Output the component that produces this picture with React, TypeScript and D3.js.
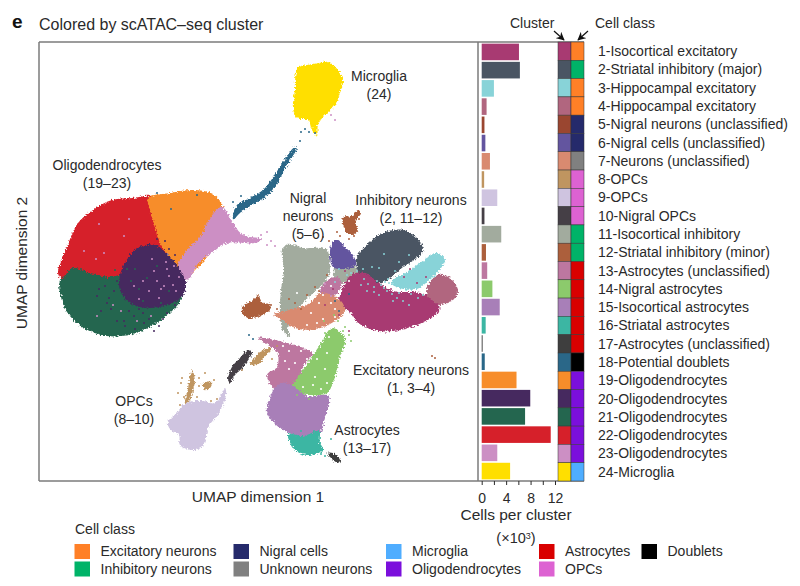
import * as d3 from "d3";
import { useRef, useEffect } from "react";

type Pt = [number, number];

const clusterNames = [
  "1-Isocortical excitatory", "2-Striatal inhibitory (major)", "3-Hippocampal excitatory",
  "4-Hippocampal excitatory", "5-Nigral neurons (unclassified)", "6-Nigral cells (unclassified)",
  "7-Neurons (unclassified)", "8-OPCs", "9-OPCs", "10-Nigral OPCs", "11-Isocortical inhibitory",
  "12-Striatal inhibitory (minor)", "13-Astrocytes (unclassified)", "14-Nigral astrocytes",
  "15-Isocortical astrocytes", "16-Striatal astrocytes", "17-Astrocytes (unclassified)",
  "18-Potential doublets", "19-Oligodendrocytes", "20-Oligodendrocytes", "21-Oligodendrocytes",
  "22-Oligodendrocytes", "23-Oligodendrocytes", "24-Microglia",
];
const cellsPerCluster = [6.1, 6.25, 2.0, 0.8, 0.45, 0.6, 1.35, 0.4, 2.55, 0.45, 3.2, 0.7, 0.9, 1.75, 2.95, 0.65, 0.15, 0.5, 5.7, 7.95, 7.1, 11.3, 2.55, 4.65];
const clusterColors = [
  "#a83a72", "#4a5563", "#88d3d8", "#b1667f", "#9a4630", "#63559f", "#d98a70", "#bf9560",
  "#cfc4e0", "#453f46", "#a2ab9e", "#ac5f3c", "#bd77a0", "#8cca6c", "#a87fb8", "#3cb6a3",
  "#3e3e3e", "#2a6788", "#f78d2a", "#46295f", "#24664f", "#d6202a", "#cc8fc4", "#ffdf00",
];
const classNames = ["Excitatory neurons", "Inhibitory neurons", "Nigral cells", "Unknown neurons", "Microglia", "Oligodendrocytes", "Astrocytes", "OPCs", "Doublets"];
const classColors = ["#ff8027", "#00b368", "#252a6b", "#808080", "#4fadff", "#7b0fdc", "#d90000", "#dd62d2", "#000000"];
const clusterClass = [0, 1, 0, 0, 2, 2, 3, 7, 7, 7, 1, 1, 6, 6, 6, 6, 6, 8, 5, 5, 5, 5, 5, 4];

// UMAP outlines, one list per cell cloud
const cloud21: Pt[] = [[21,201],[22,184],[28,169],[43,154],[68,145],[94,147],[116,157],[134,171],[144,186],[134,201],[101,218],[68,214],[34,214]];
const cloud22: Pt[] = [[19,208],[28,234],[39,258],[54,271],[73,281],[94,283],[114,284],[128,258],[128,228],[101,208],[81,206],[71,204],[51,208],[33,213],[23,202]];
const cloud19: Pt[] = [[109,283],[131,288],[154,291],[174,287],[183,276],[188,258],[168,224],[149,203],[144,199],[134,219],[121,238],[116,254],[111,271]];
const cloud23: Pt[] = [[183,274],[194,258],[204,246],[223,242],[216,238],[188,238],[174,229],[161,219],[149,201],[146,201],[139,214],[148,231],[161,244],[171,263]];
const cloud20: Pt[] = [[81,206],[89,223],[98,233],[116,236],[131,224],[141,211],[147,198],[143,184],[128,176],[108,173],[91,178],[81,191]];
const cloud18: Pt[] = [[194,261],[198,276],[211,283],[224,291],[235,305],[244,319],[256,334],[258,333],[248,316],[240,301],[229,286],[213,276],[201,268]];
const cloud24: Pt[] = [[259,413],[274,417],[289,419],[299,411],[304,401],[301,388],[296,376],[284,364],[279,356],[278,345],[273,351],[269,361],[258,363],[254,373],[256,391],[256,401]];
const cloud11: Pt[] = [[243,231],[249,237],[264,233],[281,233],[288,231],[291,212],[286,199],[274,188],[262,176],[254,166],[249,151],[251,144],[244,150],[241,168],[242,191],[245,211]];
const cloud11b: Pt[] = [[296,216],[316,216],[318,203],[298,199]];
const cloud6: Pt[] = [[293,238],[299,241],[306,234],[314,226],[317,216],[306,212],[294,214],[291,226]];
const cloud12: Pt[] = [[304,264],[313,265],[319,271],[322,268],[316,259],[319,251],[311,246],[306,251]];
const cloud12b: Pt[] = [[203,173],[214,181],[219,186],[223,179],[231,176],[231,171],[218,164],[206,164]];
const cloud2: Pt[] = [[319,226],[331,239],[346,249],[364,251],[378,243],[384,231],[378,223],[364,214],[351,203],[338,197],[322,203],[318,213]];
const cloud3: Pt[] = [[378,216],[398,228],[406,221],[396,206],[388,199],[378,192],[364,192],[352,198],[358,204],[366,208]];
const cloud4: Pt[] = [[388,194],[399,206],[411,203],[419,191],[416,183],[401,176],[388,186]];
const cloud1: Pt[] = [[303,191],[312,206],[325,208],[340,198],[354,190],[381,188],[398,180],[400,170],[378,156],[354,150],[334,151],[318,159],[310,170],[300,178]];
const cloud7: Pt[] = [[234,166],[254,172],[271,178],[281,188],[300,182],[306,170],[291,157],[271,151],[254,154],[240,163]];
const cloud14: Pt[] = [[293,153],[306,143],[301,124],[294,98],[288,88],[271,86],[252,90],[266,114],[281,136]];
const cloud13: Pt[] = [[219,143],[241,140],[258,135],[273,128],[264,114],[256,92],[238,90],[228,106],[238,114],[238,129]];
const cloud13b: Pt[] = [[281,189],[289,201],[298,204],[303,196],[291,183]];
const cloud15: Pt[] = [[231,84],[241,98],[254,95],[268,85],[290,85],[286,64],[280,47],[264,44],[248,49],[234,59],[228,69]];
const cloud16: Pt[] = [[249,47],[264,45],[280,50],[281,38],[285,31],[268,26],[256,31]];
const cloud17: Pt[] = [[288,28],[294,28],[301,21],[299,18],[291,24]];
const cloud10: Pt[] = [[189,103],[193,114],[201,123],[209,131],[213,129],[204,114],[196,106],[191,98]];
const cloud8a: Pt[] = [[153,111],[156,101],[154,91],[151,81],[146,78],[149,93]];
const cloud8b: Pt[] = [[164,98],[173,99],[171,93],[166,91]];
const cloud8c: Pt[] = [[211,116],[221,129],[233,133],[229,128],[218,116]];
const cloud9: Pt[] = [[129,59],[140,70],[146,78],[164,80],[176,78],[186,93],[187,85],[180,68],[170,55],[163,34],[153,31],[141,36],[140,46],[131,52]];

// painted in this order: [cluster number, outline]
const cloudLayers: [number, Pt[]][] = [
  [21, cloud21], [22, cloud22], [19, cloud19], [23, cloud23], [20, cloud20], [18, cloud18], [24, cloud24],
  [11, cloud11], [11, cloud11b], [6, cloud6], [12, cloud12], [12, cloud12b], [2, cloud2], [1, cloud1], [3, cloud3], [4, cloud4],
  [13, cloud13b], [7, cloud7], [13, cloud13], [14, cloud14], [15, cloud15], [16, cloud16], [17, cloud17],
  [10, cloud10], [8, cloud8a], [8, cloud8b], [8, cloud8c], [9, cloud9],
];

// cells that sit apart from or inside another cloud
const strayPink: Pt[] = [[65,228],[85,245],[57,222],[45,230],[90,262],[60,257],[115,210],[125,195],[110,190],[130,205],[120,183],[135,215],[100,182],[118,200],[128,212],[292,366],[296,361],[228,249],[232,240],[236,235],[292,185],[286,197],[122,192],[134,196],[140,204],[113,222],[137,190],[127,219],[95,195],[104,200],[74,176],[82,170],[58,165],[98,160],[112,165],[228,236],[222,246]];
const strayPurple: Pt[] = [[85,160],[95,165],[72,172],[105,158],[78,160],[110,162],[62,170],[120,155],[90,170],[100,172],[115,150],[68,178],[58,185],[128,168],[75,190],[70,183],[66,195],[78,200],[60,192],[86,155],[96,152],[118,242],[126,240],[130,232],[136,226],[104,168],[124,162],[136,176]];
const strayDarkGreen: Pt[] = [[100,192],[108,203],[118,215],[92,200],[130,190],[122,178],[104,180],[88,212],[60,205],[42,212],[76,211],[96,212]];
const strayCyan: Pt[] = [[360,219],[345,227],[340,213],[370,226],[333,214],[325,202],[318,210],[350,198],[338,200],[312,208],[329,197],[345,193],[360,188],[322,196],[335,189],[354,180],[370,176],[384,186],[300,212],[308,206],[296,199],[324,212],[356,210],[348,190],[342,196],[335,194],[353,187],[346,199],[362,196],[372,187],[328,190],[340,186],[358,183],[379,183],[349,202],[364,180]];
const strayMagenta: Pt[] = [[365,204],[378,198],[352,192],[340,190],[387,204],[371,212],[330,205],[306,210],[294,192],[286,176],[300,166],[310,150]];
const strayBrown: Pt[] = [[396,123],[393,125],[280,190],[268,186],[290,240],[298,249],[301,245],[232,176],[238,172],[262,172],[320,262],[250,182],[256,178],[288,206],[276,194],[284,244],[310,242],[315,245]];
const strayGreen: Pt[] = [[310,146],[299,160],[306,154],[295,166],[286,148],[270,82],[258,86],[285,160],[312,140],[304,150]];
const strayTan: Pt[] = [[139,88],[143,103],[160,103],[166,108],[172,80],[178,82],[141,76],[158,84],[203,111],[233,122],[145,84],[160,95],[175,101],[142,98],[238,135]];
const strayBlue: Pt[] = [[261,340],[266,352],[262,349],[270,349],[276,348],[194,279],[202,285],[214,142],[210,146],[300,170],[118,288],[158,286],[296,180],[310,187],[132,272]];
const strayTeal: Pt[] = [[282,27],[286,25],[262,50],[275,50],[292,42]];
const strayWhite: Pt[] = [[296,164],[300,150],[280,178],[272,168],[284,186],[292,195],[288,128],[278,122],[286,112],[276,104],[268,122],[274,96],[256,118],[262,130],[250,112],[246,120],[278,146],[266,145],[272,135],[250,130],[244,135],[254,140],[288,98],[282,92],[264,94],[310,200],[300,186],[296,172],[292,178],[284,162],[278,158],[290,144],[258,188],[268,156],[252,146]];
const strayLayers: [number, Pt[]][] = [
  [23, strayPink], [20, strayPurple], [21, strayDarkGreen], [3, strayCyan], [1, strayMagenta], [12, strayBrown], [14, strayGreen], [8, strayTan], [18, strayBlue], [16, strayTeal],
];

const cloudLabels = [
  { lines: ["Oligodendrocytes", "(19–23)"], u: 68, v: 311 },
  { lines: ["Microglia", "(24)"], u: 340, v: 400 },
  { lines: ["Nigral", "neurons", "(5–6)"], u: 269, v: 278 },
  { lines: ["Inhibitory neurons", "(2, 11–12)"], u: 372, v: 276 },
  { lines: ["Excitatory neurons", "(1, 3–4)"], u: 372, v: 106 },
  { lines: ["Astrocytes", "(13–17)"], u: 328, v: 46 },
  { lines: ["OPCs", "(8–10)"], u: 95, v: 75 },
];

const legendColumns = [[0, 1], [2, 3], [4, 5], [6, 7], [8]];
const countTicks = [0, 2, 4, 6, 8, 10, 12];

const ink = "#2a2a2a";
const frame = "#7c7c7c";
const font = "'Liberation Sans', Arial, sans-serif";

const App = () => {
  const gx = useRef<SVGGElement>(null);

  const top = 42;
  const bottom = 481;
  const left = 39;

  const x = d3.scaleLinear().domain([0, 439]).range([left, 478]);
  const y = d3.scaleLinear().domain([0, 439]).range([bottom, top]);
  const outline = d3.line<Pt>().x(d => x(d[0])).y(d => y(d[1])).curve(d3.curveCatmullRomClosed.alpha(0.5));

  const xCount = d3.scaleLinear().domain([0, 12]).range([481.7, 555]);
  const row = d3.scaleBand<number>().domain(d3.range(24)).range([top, bottom]).padding(0.09);
  const rowFull = d3.scaleBand<number>().domain(d3.range(24)).range([top, bottom]);

  const swatchX = [74.5, 233.5, 386, 539, 641.5];
  const legendY = [551.5, 569];

  useEffect(() => {
    if (gx.current) {
      const g = d3.select(gx.current);
      g.call(
        d3.axisBottom(xCount)
          .tickValues(countTicks)
          .tickSize(4)
          .tickPadding(8)
          .tickFormat(d => (+d % 4 === 0 ? String(d) : ""))
      );
      g.select(".domain").remove();
      g.selectAll("line").attr("stroke", ink);
      g.selectAll("text").attr("font-size", 14).attr("font-family", font).attr("fill", ink);
    }
  }, []);

  return (
    <svg width={800} height={586} style={{ position: "absolute", left: 0, top: 0 }} fontFamily={font} fill={ink}>
      <defs>
        <filter id="grain" x="-10%" y="-10%" width="120%" height="120%" colorInterpolationFilters="sRGB">
          <feTurbulence type="fractalNoise" baseFrequency="0.55" numOctaves="2" seed="4" />
          <feDisplacementMap in="SourceGraphic" scale="5" xChannelSelector="R" yChannelSelector="G" />
          <feGaussianBlur stdDeviation="0.4" />
        </filter>
        <marker id="head" viewBox="0 0 10 10" refX="9" refY="5" markerWidth="7" markerHeight="7" orient="auto">
          <path d="M0,0 L10,5 L0,10 L3,5 Z" fill="#111" />
        </marker>
      </defs>

      <text x={12} y={28} fontSize={19} fontWeight="bold" fill="#111">e</text>
      <text x={39} y={30} fontSize={16}>Colored by scATAC–seq cluster</text>
      <text x={510} y={28} fontSize={14}>Cluster</text>
      <text x={595} y={28} fontSize={14}>Cell class</text>
      <line x1={554} y1={31} x2={564} y2={40} stroke="#111" strokeWidth={1.2} markerEnd="url(#head)" />
      <line x1={588} y1={31} x2={578} y2={40} stroke="#111" strokeWidth={1.2} markerEnd="url(#head)" />

      <g filter="url(#grain)">
        {cloudLayers.map(([c, pts], i) => (
          <path key={i} d={outline(pts) || ""} fill={clusterColors[c - 1]} />
        ))}
      </g>
      <g>
        {strayWhite.map((d, j) => <circle key={j} cx={x(d[0])} cy={y(d[1])} r={1.1} fill="#fff" />)}
        {strayLayers.map(([c, pts], i) =>
          pts.map((d, j) => <circle key={`${i}-${j}`} cx={x(d[0])} cy={y(d[1])} r={1} fill={clusterColors[c - 1]} />)
        )}
      </g>

      <g fontSize={14} textAnchor="middle">
        {cloudLabels.map((l, i) => (
          <text key={i} x={x(l.u)} y={y(l.v)}>
            {l.lines.map((t, j) => (
              <tspan key={j} x={x(l.u)} dy={j === 0 ? 0 : 17.8}>{t}</tspan>
            ))}
          </text>
        ))}
      </g>

      <path d={`M${left},${top} H584 M${left},${bottom} H584 M${left},${top} V${bottom} M478,${top} V${bottom}`} fill="none" stroke={frame} strokeWidth={1.5} />

      {cellsPerCluster.map((v, i) => (
        <rect key={i} x={xCount(0)} y={row(i)} width={xCount(v) - xCount(0)} height={row.bandwidth()} fill={clusterColors[i]} />
      ))}

      {clusterColors.map((c, i) => (
        <g key={i}>
          <rect x={558} y={rowFull(i)} width={13} height={rowFull.bandwidth()} fill={c} stroke="#333" strokeWidth={0.5} />
          <rect x={571} y={rowFull(i)} width={13} height={rowFull.bandwidth()} fill={classColors[clusterClass[i]]} stroke="#333" strokeWidth={0.5} />
          <text x={598} y={(rowFull(i) ?? 0) + rowFull.bandwidth() / 2} dy="0.35em" fontSize={14}>{clusterNames[i]}</text>
        </g>
      ))}

      <g ref={gx} transform={`translate(0,${bottom})`} />

      <text x={258} y={502} fontSize={15.5} textAnchor="middle">UMAP dimension 1</text>
      <text transform="translate(27,263) rotate(-90)" fontSize={15.5} textAnchor="middle">UMAP dimension 2</text>
      <text x={516} y={520} fontSize={15.5} textAnchor="middle">Cells per cluster</text>
      <text x={516} y={543} fontSize={14.5} textAnchor="middle">(×10<tspan dy={-4} fontSize={9}>3</tspan><tspan dy={4}>)</tspan></text>

      <text x={75} y={534} fontSize={14}>Cell class</text>
      {legendColumns.map((col, ci) =>
        col.map((k, ri) => (
          <g key={k}>
            <rect x={swatchX[ci]} y={legendY[ri] - 7.5} width={15.5} height={15} fill={classColors[k]} />
            <text x={swatchX[ci] + 26} y={legendY[ri]} dy="0.35em" fontSize={14}>{classNames[k]}</text>
          </g>
        ))
      )}
    </svg>
  );
};

export default App;
